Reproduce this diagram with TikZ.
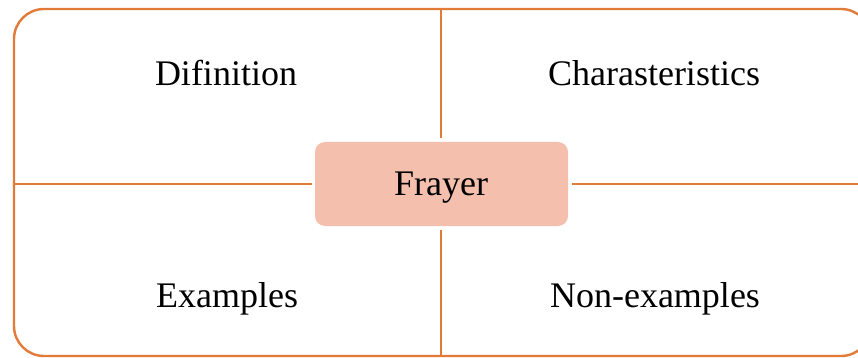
\documentclass[tikz,border=0pt]{standalone}
\usepackage{fontspec}
\setmainfont{Liberation Serif}
\definecolor{frame}{RGB}{226,122,56}
\definecolor{boxfill}{RGB}{244,192,173}
\tikzset{
  frameline/.style={draw=frame, line width=2.4pt},
  label/.style={anchor=base, inner sep=0pt, font=\fontsize{36}{42}\selectfont},
  centerbox/.style={fill=boxfill, rounded corners=10pt, minimum width=253pt, minimum height=84pt, inner sep=0pt, outer sep=3.5pt}
}
\begin{document}
\begin{tikzpicture}[x=1pt,y=-1pt]
\useasboundingbox (0,0) rectangle (858,358);
\clip (0,0) rectangle (858,358);
\draw[frameline, rounded corners=30pt] (14,9) rectangle (871,356);
\node[centerbox] (c) at (441.5,184) {};
\coordinate (top) at (441,9);
\coordinate (bot) at (441,356);
\coordinate (lft) at (14,184);
\coordinate (rgt) at (871,184);
\draw[frameline] (top) -- (c.north -| top);
\draw[frameline] (c.south -| bot) -- (bot);
\draw[frameline] (lft) -- (c.west |- lft);
\draw[frameline] (c.east |- rgt) -- (rgt);
\node[label] (frayer) at (441,195) {Frayer};
\node[label] (def) at (226,86) {Difinition};
\node[label] (cha) at (654,86) {Charasteristics};
\node[label] (ex) at (227,307) {Examples};
\node[label] (nex) at (655,307) {Non-examples};
\end{tikzpicture}
\end{document}
